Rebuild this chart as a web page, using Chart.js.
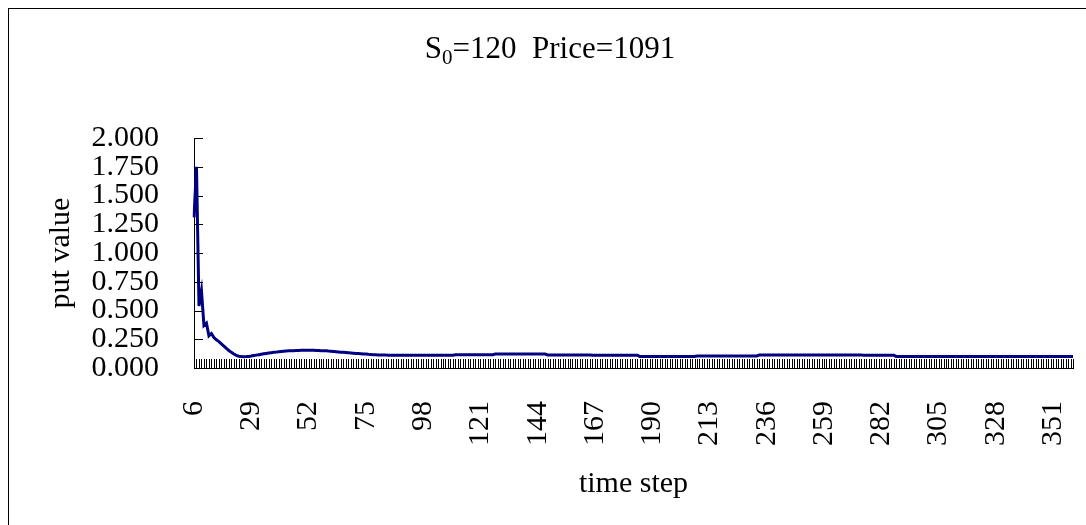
<!DOCTYPE html>
<html>
<head>
<meta charset="utf-8">
<script src="https://cdn.jsdelivr.net/npm/chart.js@4/dist/chart.umd.min.js"></script>
<style>
    html, body { margin: 0; padding: 0; background: #fff; overflow: hidden; }
    #wrap { position: relative; width: 1086px; height: 525px; }
    #frame {
        position: absolute; left: 8px; top: 8px; width: 2000px; height: 2000px;
        border-left: 1px solid #000; border-top: 1px solid #000;
    }
    #chartBox { position: absolute; left: 0; top: 0; width: 1086px; height: 525px; }
</style>
</head>
<body>
<div id="wrap">
    <div id="frame"></div>
    <div id="chartBox"><canvas id="putChart"></canvas></div>
</div>
<script>
// time steps shown on the x axis
const firstStep = 6;
const lastStep = 359;
const labelEvery = 23;

// y axis ticks
const yMin = 0;
const yMax = 2;
const yStep = 0.25;

// put value per time step (steps 6..359)
const putValues = [
    /* 6 */   1.31, 1.75, 0.54, 0.67, 0.37, 0.39, 0.28, 0.30, 0.265, 0.245,
    /* 16 */  0.23, 0.21, 0.19, 0.17, 0.152, 0.136, 0.122, 0.110, 0.102, 0.099,
    /* 26 */  0.098, 0.099, 0.101, 0.104, 0.108, 0.112, 0.116, 0.120, 0.124, 0.127,
    /* 36 */  0.130, 0.133, 0.136, 0.138, 0.141, 0.143, 0.145, 0.147, 0.149, 0.150,
    /* 46 */  0.151, 0.152, 0.153, 0.154, 0.155, 0.155, 0.155, 0.154, 0.154, 0.153,
    /* 56 */  0.152, 0.151, 0.150, 0.149, 0.147, 0.146, 0.144, 0.142, 0.140, 0.138,
    /* 66 */  0.137, 0.135, 0.133, 0.131, 0.129, 0.127, 0.126, 0.124, 0.122, 0.121,
    /* 76 */  0.119, 0.118, 0.116, 0.115, 0.114, 0.113, 0.112, 0.112, 0.111, 0.111,
    /* 86 */  0.111, 0.111, 0.110, 0.110, 0.110, 0.110, 0.110, 0.110, 0.110, 0.110,
    /* 96 */  0.110, 0.110, 0.110, 0.111, 0.111, 0.111, 0.111, 0.111, 0.111, 0.111,
    /* 106 */ 0.111, 0.111, 0.111, 0.111, 0.111, 0.115, 0.115, 0.115, 0.115, 0.115,
    /* 116 */ 0.115, 0.115, 0.115, 0.115, 0.115, 0.115, 0.115, 0.115, 0.115, 0.115,
    /* 126 */ 0.115, 0.121, 0.121, 0.121, 0.121, 0.121, 0.121, 0.121, 0.121, 0.121,
    /* 136 */ 0.121, 0.121, 0.121, 0.121, 0.121, 0.121, 0.121, 0.121, 0.121, 0.121,
    /* 146 */ 0.121, 0.121, 0.114, 0.114, 0.114, 0.114, 0.114, 0.114, 0.114, 0.114,
    /* 156 */ 0.114, 0.114, 0.114, 0.114, 0.114, 0.114, 0.114, 0.114, 0.114, 0.114,
    /* 166 */ 0.111, 0.111, 0.111, 0.111, 0.111, 0.111, 0.111, 0.111, 0.111, 0.111,
    /* 176 */ 0.111, 0.111, 0.111, 0.111, 0.111, 0.111, 0.111, 0.111, 0.111, 0.101,
    /* 186 */ 0.101, 0.101, 0.101, 0.101, 0.101, 0.101, 0.101, 0.101, 0.101, 0.101,
    /* 196 */ 0.101, 0.101, 0.101, 0.101, 0.101, 0.101, 0.101, 0.101, 0.101, 0.101,
    /* 206 */ 0.101, 0.101, 0.105, 0.105, 0.105, 0.105, 0.105, 0.105, 0.105, 0.105,
    /* 216 */ 0.105, 0.105, 0.105, 0.105, 0.105, 0.105, 0.105, 0.105, 0.105, 0.105,
    /* 226 */ 0.105, 0.105, 0.105, 0.105, 0.105, 0.105, 0.105, 0.112, 0.112, 0.112,
    /* 236 */ 0.112, 0.112, 0.112, 0.112, 0.112, 0.112, 0.112, 0.112, 0.112, 0.112,
    /* 246 */ 0.112, 0.112, 0.112, 0.112, 0.112, 0.112, 0.112, 0.112, 0.112, 0.112,
    /* 256 */ 0.112, 0.112, 0.112, 0.112, 0.112, 0.112, 0.112, 0.112, 0.112, 0.112,
    /* 266 */ 0.112, 0.112, 0.112, 0.112, 0.112, 0.112, 0.112, 0.112, 0.112, 0.111,
    /* 276 */ 0.111, 0.111, 0.111, 0.111, 0.111, 0.111, 0.111, 0.111, 0.111, 0.111,
    /* 286 */ 0.111, 0.111, 0.101, 0.101, 0.101, 0.101, 0.101, 0.101, 0.101, 0.101,
    /* 296 */ 0.101, 0.101, 0.101, 0.101, 0.101, 0.101, 0.101, 0.101, 0.101, 0.101,
    /* 306 */ 0.101, 0.101, 0.101, 0.101, 0.101, 0.101, 0.101, 0.101, 0.101, 0.101,
    /* 316 */ 0.101, 0.101, 0.101, 0.101, 0.101, 0.101, 0.101, 0.101, 0.101, 0.101,
    /* 326 */ 0.101, 0.101, 0.101, 0.101, 0.101, 0.101, 0.101, 0.101, 0.101, 0.101,
    /* 336 */ 0.101, 0.101, 0.101, 0.101, 0.101, 0.101, 0.101, 0.101, 0.101, 0.101,
    /* 346 */ 0.101, 0.101, 0.101, 0.101, 0.101, 0.101, 0.101, 0.101, 0.101, 0.101,
    /* 356 */ 0.101, 0.101, 0.101, 0.101
];

const steps = [];
for (let s = firstStep; s <= lastStep; s++) steps.push(String(s));

const serif = '"Liberation Serif", "Times New Roman", serif';

// Excel-style tick marks drawn inside the plot area
const innerTicks = {
    id: 'innerTicks',
    beforeDatasetsDraw(chart) {
        const { ctx, chartArea, scales } = chart;
        ctx.save();
        ctx.strokeStyle = '#000';
        ctx.lineWidth = 1;
        ctx.beginPath();
        scales.x.ticks.forEach((t, i) => {
            const x = Math.round(scales.x.getPixelForTick(i)) + 0.5;
            ctx.moveTo(x, chartArea.bottom - 9);
            ctx.lineTo(x, chartArea.bottom);
        });
        scales.y.ticks.forEach((t, i) => {
            const y = Math.round(scales.y.getPixelForTick(i)) + 0.5;
            ctx.moveTo(chartArea.left, y);
            ctx.lineTo(chartArea.left + 9, y);
        });
        ctx.stroke();
        ctx.restore();
    }
};

// title with subscript
const subTitle = {
    id: 'subTitle',
    afterDraw(chart) {
        const ctx = chart.ctx;
        const big = '31px ' + serif;
        const small = '21px ' + serif;
        const parts = [['S', big, 0], ['0', small, 6], ['=120  Price=1091', big, 0]];
        ctx.save();
        ctx.fillStyle = '#000';
        ctx.textBaseline = 'alphabetic';
        let total = 0;
        parts.forEach(p => { ctx.font = p[1]; total += ctx.measureText(p[0]).width; });
        let x = 550 - total / 2;
        parts.forEach(p => {
            ctx.font = p[1];
            ctx.fillText(p[0], x, 58 + p[2]);
            x += ctx.measureText(p[0]).width;
        });
        ctx.restore();
    }
};

new Chart(document.getElementById('putChart'), {
    type: 'line',
    data: {
        labels: steps,
        datasets: [{
            data: putValues,
            borderColor: '#000080',
            borderWidth: 3,
            pointRadius: 0,
            tension: 0,
            fill: false
        }]
    },
    options: {
        responsive: true,
        maintainAspectRatio: false,
        animation: false,
        layout: { padding: { top: 138, right: 13, left: 0, bottom: 0 } },
        plugins: {
            legend: { display: false },
            tooltip: { enabled: false },
            title: { display: false }
        },
        scales: {
            x: {
                offset: false,
                afterFit: scale => {
                    scale.height = 157;
                    scale.paddingLeft = 0;
                    scale.paddingRight = 0;
                },
                grid: { display: false, drawTicks: false },
                border: { display: true, color: '#000', width: 1 },
                ticks: {
                    autoSkip: false,
                    maxRotation: 90,
                    minRotation: 90,
                    padding: 33,
                    color: '#000',
                    font: { family: serif, size: 30 },
                    callback: (val, index) => index % labelEvery === 0 ? steps[index] : ''
                },
                title: {
                    display: true,
                    text: 'time step',
                    color: '#000',
                    font: { family: serif, size: 30 },
                    padding: { top: 0, bottom: 23 }
                }
            },
            y: {
                min: yMin,
                max: yMax,
                afterFit: scale => {
                    scale.width = 194;
                    scale.paddingTop = 0;
                    scale.paddingBottom = 0;
                },
                grid: { display: false, drawTicks: false },
                border: { display: true, color: '#000', width: 1 },
                ticks: {
                    autoSkip: false,
                    stepSize: yStep,
                    padding: 35,
                    color: '#000',
                    font: { family: serif, size: 30 },
                    callback: v => v.toFixed(3)
                },
                title: {
                    display: true,
                    text: 'put value',
                    color: '#000',
                    font: { family: serif, size: 30 },
                    padding: { top: 43, bottom: 0 }
                }
            }
        }
    },
    plugins: [innerTicks, subTitle]
});
</script>
</body>
</html>
